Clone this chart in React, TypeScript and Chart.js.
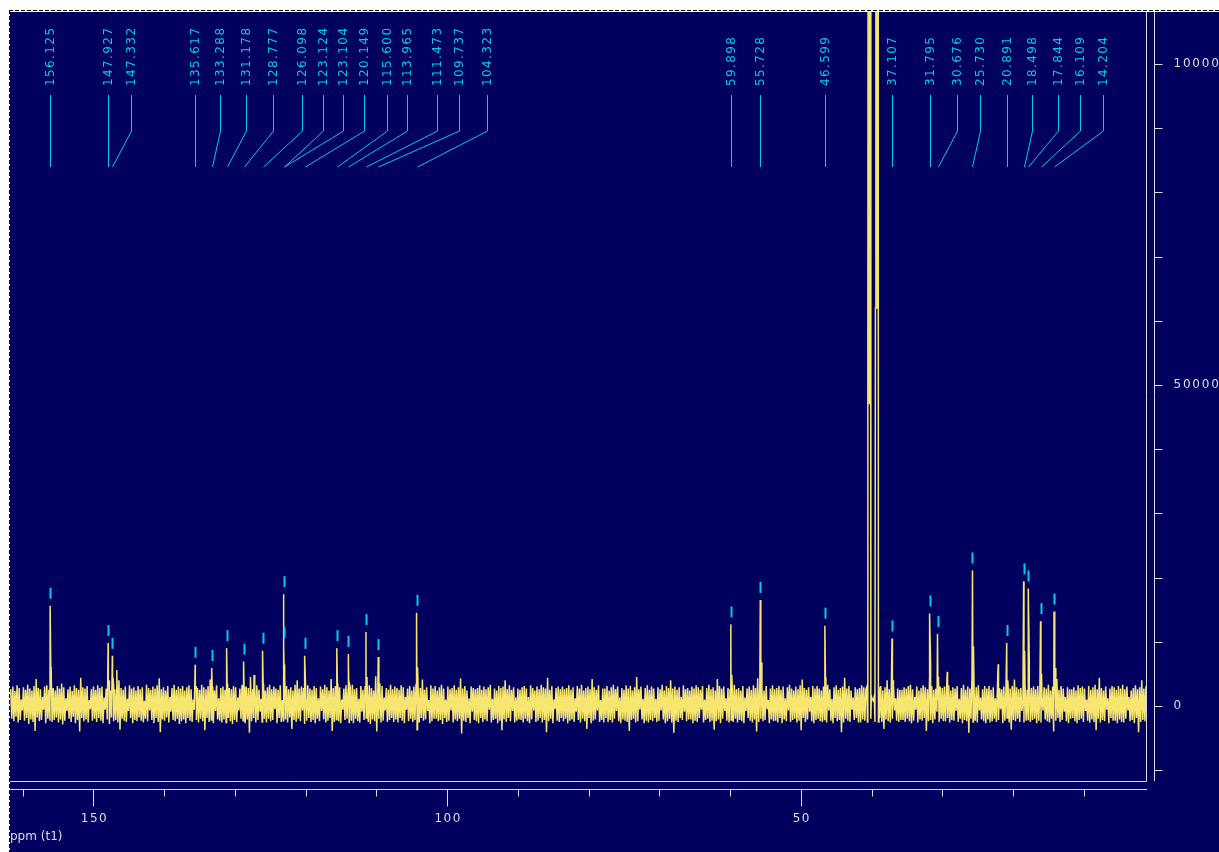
import React, { useEffect, useRef } from "react";
import { Chart, registerables } from "chart.js";

Chart.register(...registerables);

// ---- data (ppm / intensity) ----
const PEAK_PPM = [
  156.125, 147.927, 147.332, 135.617, 133.288, 131.178, 128.777, 126.098,
  123.124, 123.104, 120.149, 115.6, 113.965, 111.473, 109.737, 104.323,
  59.898, 55.728, 46.599, 37.107, 31.795, 30.676, 25.73, 20.891, 18.498,
  17.844, 16.109, 14.204,
];
const PEAK_HEIGHT = [
  15600, 9800, 7800, 6400, 5900, 9000, 6900, 8600,
  17400, 9500, 7800, 9000, 8100, 11500, 7600, 14500,
  12700, 16500, 12500, 10500, 14400, 11200, 21100, 9800, 19400,
  18300, 13200, 14700,
];
const PEAK_SHOULDER = [
  6000, 4000, 3500, 3000, 3000, 3500, 3000, 3500,
  6500, 5000, 3000, 3500, 3500, 4500, 3500, 6000,
  4800, 6800, 4500, 4000, 6700, 4500, 9300, 4000, 8600,
  7300, 5000, 5900,
];
// where each peak's text label sits (ppm of label column)
const LABEL_PPM = [
  156.125, 147.927, 144.7, 135.617, 132.11, 128.43, 124.61, 120.51,
  117.53, 114.71, 111.74, 108.49, 105.66, 101.41, 98.3, 94.34,
  59.898, 55.728, 46.599, 37.107, 31.795, 27.91, 24.61, 20.891, 17.25,
  13.62, 10.47, 7.22,
];
const MINOR_PEAK_PPM = [146.7, 127.3, 29.3, 22.1];
const MINOR_PEAK_HEIGHT = [5600, 4800, 5300, 6500];
const SOLVENT_PPM = [
  40.66, 40.59, 40.52, 40.45, 40.38, 40.31, 40.24, 40.17, 40.1, 40.03, 39.9,
  39.75, 39.62, 39.52, 39.45, 39.38, 39.31, 39.24, 39.17, 39.1, 39.03, 38.95,
];
const SOLVENT_HEIGHT = [
  3000, -2500, 60000, 200000, 47000, 200000, 47000, 200000, -2000, 1500, 1000,
  800, 1500, -2500, 62000, 300000, 62000, 300000, 62000, 300000, -2500, 3000,
];
const SOLVENT_RANGE = [38.9, 40.7];

// baseline noise: top and bottom of each ~2 px column (hundreds of units)
const NOISE_STEP_PPM = 0.3;
const NOISE_UNIT = 100;
const NOISE_BASELINE = 200;
const NOISE_HIGH_START_PPM = 161.7;
const NOISE_HIGH = [
  24,28,21,30,26,8,27,23,31,25,22,29,40,26,24,12,28,30,23,27,
  26,22,29,25,33,27,10,24,28,21,30,26,23,42,27,25,29,7,24,28,
  23,30,26,28,11,25,31,22,27,24,29,38,26,23,28,9,30,25,27,22,
  29,24,27,6,31,26,23,28,25,30,41,24,27,22,29,12,26,31,23,28,
  25,29,22,27,30,24,8,28,26,23,31,27,24,29,39,25,22,30,10,26,
  28,23,30,26,24,29,27,11,25,31,22,28,26,43,24,27,30,23,9,29,
  22,27,31,24,28,25,23,30,7,26,29,24,27,22,31,38,25,28,26,12,
  30,25,23,29,26,10,28,24,31,27,22,40,26,29,23,27,8,25,30,24,
  27,31,24,26,9,29,23,28,25,30,26,22,44,27,24,29,11,26,23,31,
  24,28,26,23,30,27,12,25,29,22,28,31,24,26,39,23,27,7,30,25,
  29,22,27,31,25,8,28,24,26,30,23,27,41,25,29,22,10,28,26,24,
  26,30,23,28,24,27,31,9,25,22,29,26,28,38,24,30,23,27,11,25,
  23,27,29,25,12,30,26,22,28,24,31,27,25,42,23,29,8,26,28,24,
  28,24,26,30,23,27,10,29,25,31,22,26,28,24,40,27,23,30,7,25,
  25,29,22,27,31,24,28,11,26,23,30,25,29,22,27,43,24,28,9,26,
  30,23,28,25,9,27,24,31,22,29,26,38,25,28,23,27,12,30,24,26,
  22,28,25,30,27,23,29,8,26,31,24,27,22,40,29,25,28,10,26,23,
  27,31,24,26,22,29,11,25,28,23,30,26,41,24,27,22,29,7,25,30,
  24,26,29,23,28,10,27,31,25,22,28,24,30,39,26,23,27,12,29,25,
  29,25,22,28,26,31,24,9,27,30,23,26,28,42,25,29,22,11,27,24,
  26,30,27,24,8,28,25,23,31,26,29,22,27,38,24,28,30,10,25,23,
  23,27,25,29,31,24,12,28,22,26,30,27,24,41,29,23,25,8,28,26,
  28,24,30,22,27,25,29,9,26,31,23,28,25,44,22,27,30,11,24,29,
  25,29,23,27,10,30,26,24,28,22,31,25,29,39,27,24,26,7,30,23,
  30,26,28,24,29,23,11,27,25,31,22,28,26,40,23,29,25,12,27,24,
  24,27,22,30,26,28,25,8,29,23,27,31,24,42,26,22,28,10,25,29,
  27,23,29,25,31,24,28,12,22,26,30,24,27,38,25,29,23,9,28,26,
];
const NOISE_LOW_START_PPM = 161.55;
const NOISE_LOW = [
  -22,-26,-19,-28,-24,-9,-25,-21,-30,-23,-27,-41,-20,-26,-24,-8,-29,-22,-25,-27,
  -24,-20,-28,-23,-31,-25,-10,-22,-27,-19,-29,-24,-42,-21,-26,-23,-28,-7,-25,-22,
  -27,-21,-25,-29,-8,-23,-30,-20,-26,-24,-28,-39,-22,-25,-27,-10,-21,-29,-24,-26,
  -20,-25,-28,-22,-26,-9,-24,-29,-21,-27,-43,-23,-25,-20,-28,-11,-24,-26,-22,-30,
  -26,-23,-29,-21,-25,-27,-8,-24,-28,-22,-26,-40,-21,-27,-24,-29,-10,-23,-25,-28,
  -23,-28,-21,-26,-30,-24,-27,-9,-22,-25,-29,-23,-44,-26,-21,-28,-24,-11,-27,-22,
  -28,-22,-26,-24,-7,-29,-21,-27,-25,-23,-28,-20,-38,-24,-27,-22,-26,-9,-29,-25,
  -21,-27,-24,-29,-22,-26,-10,-23,-28,-25,-21,-41,-27,-23,-26,-29,-8,-24,-22,-28,
  -25,-29,-22,-26,-28,-11,-24,-21,-27,-30,-23,-26,-42,-22,-28,-25,-9,-27,-24,-21,
  -27,-23,-28,-21,-25,-29,-8,-26,-22,-27,-24,-39,-28,-21,-25,-23,-10,-29,-26,-22,
  -22,-26,-24,-30,-21,-27,-25,-9,-28,-23,-26,-22,-45,-25,-27,-21,-29,-11,-24,-26,
  -29,-21,-27,-23,-26,-8,-28,-24,-22,-29,-25,-40,-23,-27,-21,-26,-10,-28,-25,-23,
  -24,-28,-22,-26,-29,-23,-9,-27,-25,-21,-28,-24,-43,-26,-22,-29,-7,-25,-27,-21,
  -26,-22,-29,-25,-23,-27,-11,-24,-28,-22,-26,-38,-21,-29,-25,-23,-9,-27,-24,-28,
  -21,-27,-24,-28,-22,-10,-26,-29,-23,-25,-27,-41,-24,-22,-28,-26,-8,-23,-29,-25,
  -28,-24,-26,-21,-27,-25,-9,-23,-29,-26,-22,-28,-44,-25,-27,-21,-24,-11,-26,-23,
  -23,-29,-25,-27,-21,-8,-28,-24,-22,-27,-25,-39,-26,-23,-29,-22,-10,-25,-28,-24,
  -27,-22,-28,-24,-26,-29,-10,-21,-25,-28,-23,-42,-27,-22,-26,-24,-7,-29,-23,-26,
  -25,-28,-21,-29,-23,-26,-9,-27,-24,-22,-28,-25,-40,-21,-27,-23,-11,-26,-29,-24,
  -22,-26,-27,-23,-28,-9,-25,-29,-21,-26,-24,-43,-28,-22,-25,-27,-8,-24,-21,-28,
  -28,-23,-25,-27,-22,-26,-10,-24,-29,-21,-27,-38,-23,-26,-28,-22,-9,-25,-27,-24,
  -24,-27,-22,-26,-29,-25,-8,-28,-23,-25,-21,-41,-26,-24,-29,-23,-11,-27,-22,-26,
  -26,-21,-28,-24,-25,-10,-27,-22,-29,-24,-26,-44,-22,-27,-25,-28,-9,-23,-26,-29,
  -23,-28,-26,-22,-27,-24,-7,-29,-25,-21,-28,-39,-24,-26,-22,-27,-10,-28,-25,-23,
  -27,-24,-22,-29,-25,-28,-9,-23,-26,-28,-22,-42,-25,-21,-27,-24,-11,-26,-29,-22,
  -21,-26,-29,-24,-22,-27,-10,-25,-28,-23,-27,-40,-22,-28,-24,-26,-8,-29,-21,-25,
  -25,-29,-23,-27,-28,-22,-9,-26,-24,-29,-21,-43,-27,-24,-26,-22,-10,-25,-28,-24,
];

const X_TICKS = [160, 150, 140, 130, 120, 110, 100, 90, 80, 70, 60, 50, 40, 30, 20, 10];
const X_LABELS = [150, 100, 50];
const Y_TICKS = [-10000, 0, 10000, 20000, 30000, 40000, 50000, 60000, 70000, 80000, 90000, 100000];
const Y_LABELS = [0, 50000, 100000];
const X_MIN = 1.2;
const X_MAX = 161.8;
const Y_MIN = -11700;
const Y_MAX = 108100;

// ---- styles ----
const NAVY = "#00005F";
const YELLOW = "#F6E56E";
const CYAN = "#00CCE4";
const AXIS = "#DCDCE6";

function buildPoints() {
  const pts: { x: number; y: number }[] = [];
  const addNoise = (arr: number[], start: number) =>
    arr.forEach((v, i) => {
      const x = start - i * NOISE_STEP_PPM;
      if (x > SOLVENT_RANGE[0] && x < SOLVENT_RANGE[1]) return;
      pts.push({ x, y: v * NOISE_UNIT + NOISE_BASELINE });
    });
  addNoise(NOISE_HIGH, NOISE_HIGH_START_PPM);
  addNoise(NOISE_LOW, NOISE_LOW_START_PPM);
  PEAK_PPM.forEach((p, i) => {
    pts.push({ x: p, y: PEAK_HEIGHT[i] });
    pts.push({ x: p - 0.14, y: PEAK_SHOULDER[i] });
  });
  MINOR_PEAK_PPM.forEach((p, i) => pts.push({ x: p, y: MINOR_PEAK_HEIGHT[i] }));
  SOLVENT_PPM.forEach((p, i) => pts.push({ x: p, y: SOLVENT_HEIGHT[i] }));
  pts.sort((a, b) => b.x - a.x);
  return pts;
}

const nmrPlugin = {
  id: "nmrDecor",
  beforeDraw(chart: any) {
    const { ctx, width, height } = chart;
    ctx.save();
    ctx.fillStyle = "#ffffff";
    ctx.fillRect(0, 0, width, height);
    ctx.fillStyle = NAVY;
    ctx.fillRect(10, 12, width - 10, height - 12);
    ctx.strokeStyle = "#000000";
    ctx.lineWidth = 1;
    ctx.setLineDash([4, 2]);
    ctx.beginPath();
    ctx.moveTo(9, 10.5);
    ctx.lineTo(width, 10.5);
    ctx.moveTo(9.5, 10);
    ctx.lineTo(9.5, height);
    ctx.stroke();
    ctx.restore();
  },
  afterDatasetsDraw(chart: any) {
    const { ctx, chartArea: area } = chart;
    const xs = chart.scales.x;
    const ys = chart.scales.y;
    ctx.save();
    ctx.lineWidth = 1;
    ctx.strokeStyle = AXIS;
    ctx.fillStyle = AXIS;

    // frame
    ctx.beginPath();
    ctx.moveTo(area.left, Math.round(area.bottom) + 0.5);
    ctx.lineTo(Math.round(area.right) + 0.5, Math.round(area.bottom) + 0.5);
    ctx.lineTo(Math.round(area.right) + 0.5, area.top);
    ctx.stroke();

    // x axis
    const axY = Math.round(area.bottom) + 8.5;
    ctx.beginPath();
    ctx.moveTo(area.left, axY);
    ctx.lineTo(area.right + 1, axY);
    X_TICKS.forEach((t) => {
      const px = Math.round(xs.getPixelForValue(t)) + 0.5;
      const len = X_LABELS.includes(t) ? 17 : 7;
      ctx.moveTo(px, axY);
      ctx.lineTo(px, axY + len);
    });
    ctx.stroke();
    ctx.font = "12px 'DejaVu Sans'";
    (ctx as any).letterSpacing = "1.5px";
    ctx.textAlign = "center";
    ctx.textBaseline = "middle";
    X_LABELS.forEach((t) => {
      const px = xs.getPixelForValue(t);
      ctx.fillText(String(t), px + 1, axY + 29);
    });
    (ctx as any).letterSpacing = "0px";
    ctx.textAlign = "left";
    ctx.fillText("ppm (t1)", 10, axY + 47);

    // y axis
    const axX = Math.round(area.right) + 8.5;
    ctx.beginPath();
    ctx.moveTo(axX, area.top);
    ctx.lineTo(axX, area.bottom);
    Y_TICKS.forEach((v) => {
      const py = Math.round(ys.getPixelForValue(v)) + 0.5;
      ctx.moveTo(axX, py);
      ctx.lineTo(axX + 8, py);
    });
    ctx.stroke();
    (ctx as any).letterSpacing = "1.8px";
    ctx.textAlign = "left";
    Y_LABELS.forEach((v) => {
      const py = ys.getPixelForValue(v);
      ctx.fillText(String(v), axX + 19, py);
    });

    // peak annotations
    ctx.strokeStyle = CYAN;
    ctx.fillStyle = CYAN;
    const t0 = area.top;
    PEAK_PPM.forEach((p, i) => {
      const px = Math.round(xs.getPixelForValue(p)) + 0.5;
      const lx = Math.round(xs.getPixelForValue(LABEL_PPM[i])) + 0.5;
      ctx.beginPath();
      ctx.moveTo(lx, t0 + 83);
      ctx.lineTo(lx, t0 + 119);
      ctx.lineTo(px, t0 + 155);
      ctx.stroke();

      ctx.save();
      ctx.translate(lx, t0 + 74);
      ctx.rotate(-Math.PI / 2);
      ctx.font = "12px 'DejaVu Sans'";
      (ctx as any).letterSpacing = "1.4px";
      ctx.textAlign = "left";
      ctx.textBaseline = "middle";
      ctx.fillText(p.toFixed(3), 0, 0);
      ctx.restore();

      const top = ys.getPixelForValue(PEAK_HEIGHT[i]);
      ctx.fillRect(px - 1, top - 18, 2, 11);
    });
    ctx.restore();
  },
};

export default function App() {
  const ref = useRef<HTMLCanvasElement | null>(null);
  useEffect(() => {
    if (!ref.current) return;
    const chart = new Chart(ref.current, {
      type: "line",
      data: {
        datasets: [
          {
            data: buildPoints(),
            borderColor: YELLOW,
            borderWidth: 1.5,
            pointRadius: 0,
            tension: 0,
            fill: false,
          },
        ],
      },
      options: {
        animation: false,
        responsive: false,
        devicePixelRatio: 1,
        events: [],
        layout: { padding: { left: 10, top: 12, right: 73, bottom: 71 } },
        scales: {
          x: { type: "linear", reverse: true, min: X_MIN, max: X_MAX, display: false },
          y: { type: "linear", min: Y_MIN, max: Y_MAX, display: false },
        },
        plugins: { legend: { display: false }, tooltip: { enabled: false } },
      },
      plugins: [nmrPlugin],
    } as any);
    return () => chart.destroy();
  }, []);
  return (
    <div style={{ position: "fixed", left: 0, top: 0, width: 1219, height: 852 }}>
      <canvas ref={ref} width={1219} height={852} style={{ display: "block" }} />
    </div>
  );
}
